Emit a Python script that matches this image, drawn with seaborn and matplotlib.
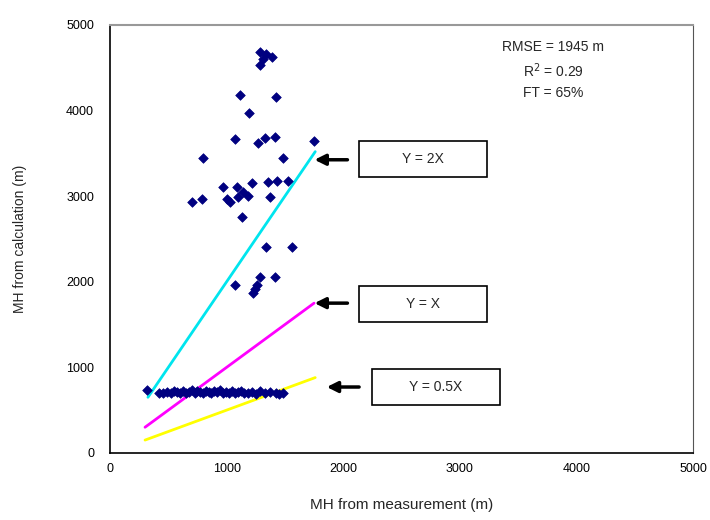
import matplotlib
matplotlib.use("Agg")
import matplotlib.pyplot as plt
import pandas as pd
import seaborn as sns

# points above the 1:1 line (measured vs calculated mixing height, m)
upper_x = [1290, 1340, 1390, 1310, 1286, 1115, 1424, 1192, 1072, 1269, 1329, 1415,
           1750, 797, 1484, 969, 1089, 1218, 1003, 1098, 1184, 1029, 1140, 1355,
           1432, 1527, 1372, 703, 789, 1132, 1338, 1561, 1286, 1415, 1072, 1261,
           1227, 1240]
upper_y = [4680, 4660, 4630, 4600, 4533, 4182, 4160, 3972, 3668, 3621, 3680, 3692,
           3645, 3446, 3446, 3107, 3107, 3154, 2967, 2990, 3002, 2932, 3049, 3166,
           3177, 3177, 2990, 2932, 2967, 2757, 2407, 2407, 2056, 2056, 1963, 1963,
           1869, 1910]

# the flat band near 700 m
low_x = [317, 420, 455, 490, 520, 545, 570, 600, 625, 650, 680, 700, 725, 750,
         775, 800, 820, 845, 870, 895, 920, 945, 970, 995, 1020, 1045, 1070, 1095,
         1120, 1150, 1180, 1215, 1250, 1290, 1330, 1370, 1420, 1450, 1484]
low_y = [736, 700, 705, 715, 695, 720, 710, 700, 725, 705, 715, 730, 700, 720,
         710, 695, 725, 715, 700, 720, 710, 730, 705, 715, 700, 720, 695, 710,
         725, 700, 705, 715, 690, 720, 700, 710, 695, 690, 700]

# reference lines (end points)
line_names = ["Y = 2X", "Y = X", "Y = 0.5X"]
line_x = [[325, 1760], [300, 1750], [300, 1760]]
line_y = [[650, 3520], [300, 1750], [150, 880]]
line_colors = ["#00e5ee", "#ff00ff", "#ffff00"]

stats_text = ["RMSE = 1945 m", "R$^2$ = 0.29", "FT = 65%"]

sns.set_style("white")
plt.rcParams["font.family"] = ["Liberation Sans", "DejaVu Sans"]

fig = plt.figure(figsize=(7.1, 5.2), dpi=100)
ax = fig.add_axes([0.155, 0.129, 0.821, 0.823])

pts = pd.DataFrame({"x": upper_x + low_x, "y": upper_y + low_y})

for xs, ys, c in zip(line_x, line_y, line_colors):
    ln = pd.DataFrame({"x": xs, "y": ys})
    sns.lineplot(data=ln, x="x", y="y", color=c, linewidth=2, ax=ax)

sns.scatterplot(data=pts, x="x", y="y", marker="D", s=24, color="#000080",
                edgecolor="#000080", linewidth=0.5, ax=ax, zorder=3)

ax.set_xlim(0, 5000)
ax.set_ylim(0, 5000)
ax.set_xticks(range(0, 5001, 1000))
ax.set_yticks(range(0, 5001, 1000))
ax.tick_params(axis="both", direction="inout", length=7, width=1,
               labelsize=9, colors="black")
ax.tick_params(axis="x", pad=4)
ax.tick_params(axis="y", pad=8)
ax.set_xlabel("MH from measurement (m)", fontsize=11, labelpad=16)
ax.set_ylabel("MH from calculation (m)", fontsize=10, labelpad=28)

ax.spines["left"].set_color("black")
ax.spines["bottom"].set_color("black")
ax.spines["left"].set_linewidth(1.2)
ax.spines["bottom"].set_linewidth(1.2)
ax.spines["top"].set_color("#999999")
ax.spines["right"].set_color("#555555")
ax.spines["top"].set_linewidth(1.5)

# stats block
for i, t in enumerate(stats_text):
    ax.text(0.76, 0.948 - i * 0.054, t, transform=ax.transAxes, ha="center",
            va="center", fontsize=10)

# labelled boxes with arrows
box_x = [0.427, 0.427, 0.449]
box_y = [0.645, 0.306, 0.112]
box_w = 0.22
box_h = 0.085
arrow_tail = [(0.412, 0.685), (0.412, 0.350), (0.432, 0.154)]
arrow_tip = [(0.346, 0.685), (0.346, 0.350), (0.367, 0.154)]

for name, bx, by, tail, tip in zip(line_names, box_x, box_y, arrow_tail, arrow_tip):
    ax.add_patch(plt.Rectangle((bx, by), box_w, box_h, transform=ax.transAxes,
                               fill=False, edgecolor="black", linewidth=1.2))
    ax.text(bx + box_w / 2, by + box_h / 2, name, transform=ax.transAxes,
            ha="center", va="center", fontsize=10)
    ax.annotate("", xy=tip, xycoords="axes fraction", xytext=tail,
                textcoords="axes fraction",
                arrowprops=dict(arrowstyle="-|>", color="black", lw=2.5,
                                mutation_scale=16))

fig.savefig("out.png", dpi=100)
